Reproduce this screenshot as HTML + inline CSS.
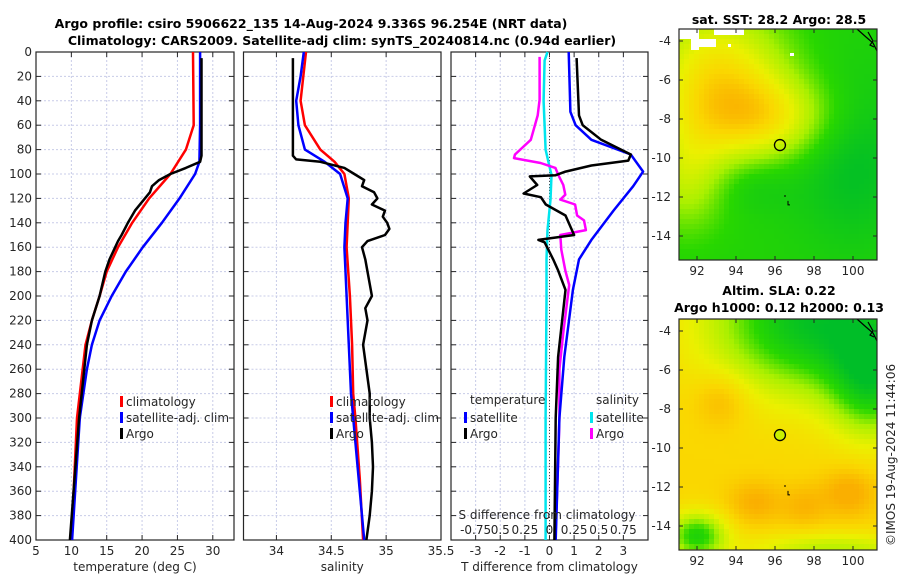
<!DOCTYPE html>
<html><head><meta charset="utf-8">
<style>
html,body{margin:0;padding:0;background:#fff;}
svg{display:block;font-family:"DejaVu Sans","Liberation Sans",sans-serif;}
.tk{font-size:12px;fill:#262626;}
.ttl{font-size:12.5px;font-weight:bold;fill:#000;}
</style></head>
<body>
<svg id="fig" width="900" height="580" viewBox="0 0 900 580" xmlns="http://www.w3.org/2000/svg">
<rect width="900" height="580" fill="#fff"/>
<text class="ttl" x="311" y="28" text-anchor="middle">Argo profile: csiro 5906622_135 14-Aug-2024 9.336S 96.254E (NRT data)</text>
<text class="ttl" x="342" y="45" text-anchor="middle">Climatology: CARS2009. Satellite-adj clim: synTS_20240814.nc (0.94d earlier)</text>
<g id="p1"></g>
<g id="p2"></g>
<g id="p3"></g>
<g id="m1"></g>
<g id="m2"></g>
<text class="ttl" x="779" y="24" text-anchor="middle">sat. SST: 28.2 Argo: 28.5</text>
<text class="ttl" x="779" y="295" text-anchor="middle">Altim. SLA: 0.22</text>
<text class="ttl" x="779" y="312" text-anchor="middle">Argo h1000: 0.12 h2000: 0.13</text>
<text class="tk" font-size="12.5" transform="translate(895,546) rotate(-90)">©IMOS 19-Aug-2024 11:44:06</text>
</svg>
<script>
// ---- data (depth in m) ----
const tClimD=[0,60,80,100,120,140,160,180,200,220,240,300,400];
const tClimV=[27.2,27.3,26.2,24,21,18.6,16.6,15,14,12.9,12,10.8,10];
const tSatD=[0,60,90,100,120,140,160,180,200,220,240,260,300,400];
const tSatV=[28.2,28.2,28.1,27.5,25.3,22.8,20.1,17.7,15.7,14,12.9,12.2,11.2,10.1];
const tArgoD=[5,85,90,95,100,105,110,115,120,130,140,150,155,160,170,180,200,220,240,300,400];
const tArgoV=[28.4,28.4,28.2,26.2,24,22.4,21.4,21.1,20.4,19,18,17.1,16.6,16.2,15.4,14.8,14,12.9,12.2,11.1,9.8];
const sArgoD=[5,85,88,90,95,100,105,110,115,120,125,130,135,140,145,150,155,160,170,180,190,200,210,220,240,260,280,300,320,340,360,380,400];
const sArgoV=[34.15,34.15,34.18,34.4,34.62,34.71,34.8,34.78,34.89,34.92,34.87,34.99,34.97,35.01,35.03,34.99,34.83,34.78,34.81,34.83,34.85,34.87,34.81,34.83,34.79,34.82,34.85,34.85,34.87,34.88,34.87,34.85,34.82];
const sClimD=[0,40,60,80,90,100,120,140,160,200,240,280,300,350,400];
const sClimV=[34.27,34.22,34.26,34.4,34.53,34.62,34.66,34.65,34.64,34.67,34.69,34.7,34.72,34.76,34.79];
const sSatD=[0,20,40,60,80,90,100,120,140,160,200,240,280,300,350,400];
const sSatV=[34.25,34.22,34.18,34.2,34.26,34.44,34.58,34.65,34.63,34.62,34.64,34.66,34.68,34.7,34.75,34.8];
const dTSatD=[0,49,60,72,84,98,110,130,154,170,195,250,300,400];
const dTSatV=[0.78,0.85,1.06,1.7,3.3,3.8,3.4,2.6,1.7,1.2,0.95,0.6,0.4,0.25];
const dTArgoD=[5,52,60,72,84,89,93,98,101,102,109,116,119,125,134,150,154,156,170,179,195,250,300,400];
const dTArgoV=[1.1,1.2,1.35,2.1,3.3,3.2,1.7,0.65,0.25,-0.8,-0.5,-1.05,-0.35,-0.15,0.65,1.0,-0.45,-0.2,0.15,0.35,0.65,0.35,0.25,0.2];
const dSArgoD=[4,39,52,72,84,87,91,95,101,109,117,121,125,134,138,146,150,162,179,191,230,260,300,330,400];
const dSArgoV=[-0.1,-0.1,-0.12,-0.19,-0.35,-0.36,-0.09,0.06,0.09,0.14,0.16,0.11,0.26,0.28,0.35,0.37,0.11,0.12,0.16,0.2,0.14,0.1,0.1,0.09,0.06];
const dSSatD=[0,7,40,80,101,121,146,170,203,300,400];
const dSSatV=[-0.02,-0.05,-0.06,-0.04,0.02,0.01,-0.02,-0.03,-0.03,-0.04,-0.04];
const depthTicks=[0,20,40,60,80,100,120,140,160,180,200,220,240,260,280,300,320,340,360,380,400];
const tTicks=[5,10,15,20,25,30];
const sTicks=[34,34.5,35,35.5];
const dTTicks=[-3,-2,-1,0,1,2,3];
const dSTicks=[-0.75,-0.5,-0.25,0,0.25,0.5,0.75];
const dSTickLabels=['-0.75','0.5','0.25','0','0.25','0.5','0.75'];
const lonTicks=[92,94,96,98,100];
const latTicks=[-4,-6,-8,-10,-12,-14];
const argoLon=96.254, argoLat=-9.336;

const NS="http://www.w3.org/2000/svg";
function mk(parent,tag,attrs,txt){const e=document.createElementNS(NS,tag);for(const k in attrs)e.setAttribute(k,attrs[k]);if(txt!==undefined)e.textContent=txt;parent.appendChild(e);return e;}
const top0=52,bot0=540;
const yD=d=>top0+(d/400)*(bot0-top0);

function panel(g,x0,x1,xmin,xmax,xt,xlabel,yLabels){
  const xs=v=>x0+(v-xmin)/(xmax-xmin)*(x1-x0);
  for(const d of depthTicks){const l=mk(g,'line',{x1:x0,x2:x1,y1:yD(d),y2:yD(d),stroke:'#c8cce8','stroke-dasharray':'2,2','stroke-width':1});
    
    mk(g,'line',{x1:x0,x2:x0+5,y1:yD(d),y2:yD(d),stroke:'#262626'});mk(g,'line',{x1:x1-5,x2:x1,y1:yD(d),y2:yD(d),stroke:'#262626'});
    if(yLabels){const t=mk(g,'text',{class:'tk',x:x0-4,y:yD(d)+4,'text-anchor':'end'},String(d));
      }}
  for(const v of xt){const x=xs(v);const l=mk(g,'line',{x1:x,x2:x,y1:top0,y2:bot0,stroke:'#c8cce8','stroke-dasharray':'2,2'});
    
    mk(g,'line',{x1:x,x2:x,y1:bot0-5,y2:bot0,stroke:'#262626'});mk(g,'line',{x1:x,x2:x,y1:top0,y2:top0+5,stroke:'#262626'});
    const t=mk(g,'text',{class:'tk',x:x,y:555,'text-anchor':'middle'},String(v));
    }
  const r=mk(g,'rect',{x:x0,y:top0,width:x1-x0,height:bot0-top0,fill:'none',stroke:'#262626','stroke-width':1.2});
  
  const xl=mk(g,'text',{class:'tk',x:(x0+x1)/2,y:571,'text-anchor':'middle','font-size':12.5},xlabel);
  
  return xs;
}
function line(g,xs,D,V,col,name,w){
  const pts=D.map((d,i)=>xs(V[i]).toFixed(1)+','+yD(d).toFixed(1)).join(' ');
  const p=mk(g,'polyline',{points:pts,fill:'none',stroke:col,'stroke-width':w||2.5,'stroke-linejoin':'round'});
  
}
function legItem(g,x,y,col,label,name){
  mk(g,'rect',{x:x,y:y-6,width:3,height:11,fill:col});
  const t=mk(g,'text',{class:'tk',x:x+6,y:y+4,'font-size':12.5},label);
  
}
// panel 1
const g1=document.getElementById('p1');
const xs1=panel(g1,36,234,5,33,tTicks,'temperature (deg C)',true);
line(g1,xs1,tClimD,tClimV,'#f00','climatology-temperature-line');
line(g1,xs1,tSatD,tSatV,'#00f','satellite-temperature-line');
line(g1,xs1,tArgoD,tArgoV,'#000','argo-temperature-line');
legItem(g1,120,402,'#f00','climatology','legend-climatology');
legItem(g1,120,418,'#00f','satellite-adj. clim','legend-satellite');
legItem(g1,120,434,'#000','Argo','legend-argo');
// panel 2
const g2=document.getElementById('p2');
const xs2=panel(g2,243.5,441,33.7,35.5,sTicks,'salinity',false);
line(g2,xs2,sClimD,sClimV,'#f00','climatology-salinity-line');
line(g2,xs2,sSatD,sSatV,'#00f','satellite-salinity-line');
line(g2,xs2,sArgoD,sArgoV,'#000','argo-salinity-line');
legItem(g2,330,402,'#f00','climatology','legend-climatology');
legItem(g2,330,418,'#00f','satellite-adj. clim','legend-satellite');
legItem(g2,330,434,'#000','Argo','legend-argo');
// panel 3
const g3=document.getElementById('p3');
const xs3=panel(g3,451,648,-4,4,dTTicks,'T difference from climatology',false);
const xsS=v=>451+(v+1)/2*(648-451);
mk(g3,'line',{x1:549.5,x2:549.5,y1:top0,y2:bot0,stroke:'#444','stroke-dasharray':'1,2'});
line(g3,xsS,dSSatD,dSSatV,'#00e5ee','satellite-salinity-diff-line');
line(g3,xsS,dSArgoD,dSArgoV,'#f0f','argo-salinity-diff-line');
line(g3,xs3,dTSatD,dTSatV,'#00f','satellite-temperature-diff-line');
line(g3,xs3,dTArgoD,dTArgoV,'#000','argo-temperature-diff-line');
let th=mk(g3,'text',{class:'tk',x:470,y:404,'font-size':12.5},'temperature');
let sh=mk(g3,'text',{class:'tk',x:596,y:404,'font-size':12.5},'salinity');
legItem(g3,464,418,'#00f','satellite','legend-temp-satellite');
legItem(g3,464,434,'#000','Argo','legend-temp-argo');
legItem(g3,590,418,'#00e5ee','satellite','legend-sal-satellite');
legItem(g3,590,434,'#f0f','Argo','legend-sal-argo');
let st=mk(g3,'text',{class:'tk',x:547,y:519,'text-anchor':'middle','font-size':12.5},'S difference from climatology');
dSTicks.forEach((v,i)=>{const t=mk(g3,'text',{class:'tk',x:xsS(v),y:534,'text-anchor':'middle'},dSTickLabels[i]);
  });

// maps
function colorOf(v){
  const stops=[[0,[0,190,40]],[0.3,[40,215,0]],[0.5,[170,240,0]],[0.7,[235,240,0]],[0.85,[250,215,0]],[1,[250,175,0]]];
  v=Math.max(0,Math.min(1,v));
  for(let i=1;i<stops.length;i++){if(v<=stops[i][0]){const a=stops[i-1],b=stops[i],f=(v-a[0])/(b[0]-a[0]);
    return 'rgb('+a[1].map((c,k)=>Math.round(c+(b[1][k]-c)*f)).join(',')+')';}}
  return 'rgb(250,175,0)';
}
const g=(x,y,cx,cy,sx,sy)=>Math.exp(-((x-cx)**2/(2*sx*sx)+(y-cy)**2/(2*sy*sy)));
function f1(lon,lat){return 0.25+0.5*g(lon,lat,93,-5.5,2.5,2.5)+0.45*g(lon,lat,95.5,-8,2.8,1.6)+0.3*g(lon,lat,91.5,-11,1.5,2)-0.25*g(lon,lat,100,-10,2,3)-0.1*g(lon,lat,95,-11.5,1.5,1);}
function f2(lon,lat){return 0.85-0.8*g(lon,lat,98,-3.5,3.5,2.5)-0.6*g(lon,lat,101,-6.5,1.5,2)+0.15*g(lon,lat,93.3,-7.5,1,1)+0.15*g(lon,lat,95,-12.8,1,0.8)+0.12*g(lon,lat,97.5,-13,0.8,0.8)+0.18*g(lon,lat,99.8,-12.3,1,0.9)-0.6*g(lon,lat,92,-14.5,1,0.8)-0.3*g(lon,lat,99,-15.2,3,0.6);}
function map(gid,y0,y1,fn,lat4y,lat14y,white){
  const G=document.getElementById(gid),x0=679,x1=877;
  const lx=lon=>697+(lon-92)*19.5;
  const ly=lat=>lat4y+(lat+4)/(-10)*(lat14y-lat4y);
  const step=5;
  for(let y=y0;y<y1;y+=step)for(let x=x0;x<x1;x+=step){
    const lon=92+(x+2.5-697)/19.5, lat=-4-(y+2.5-lat4y)/(lat14y-lat4y)*10;
    mk(G,'rect',{x:x,y:y,width:Math.min(step,x1-x)+0.3,height:Math.min(step,y1-y)+0.3,fill:colorOf(fn(lon,lat))});}
  if(white){[[679,29,20,10],[691,29,8,21],[698,39,18,8],[714,29,30,6],[728,44,3,3],[790,53,4,3]].forEach(r=>mk(G,'rect',{x:r[0],y:r[1],width:r[2],height:r[3],fill:'#fff'}));}
  mk(G,'path',{d:`M857 ${y0} L866 ${y0+8} L873 ${y0+14} L877 ${y0+22} M868 ${y0+3} L873 ${y0+12} L870 ${y0+16} L874 ${y0+18}`,stroke:'#000',fill:'none','stroke-width':1.2});
  mk(G,'path',{d:`M785 ${ly(-11.9)} l0 2 M788 ${ly(-12.2)} l0 4 l2 0`,stroke:'#000','stroke-width':1,fill:'none'});
  const c=mk(G,'circle',{cx:lx(argoLon),cy:ly(argoLat),r:5.5,fill:gid==='m2'?'#c8f000':'none',stroke:'#000','stroke-width':1.3});
  
  mk(G,'rect',{x:x0,y:y0,width:x1-x0,height:y1-y0,fill:'none',stroke:'#262626','stroke-width':1.2});
  for(const lon of lonTicks){const x=lx(lon);mk(G,'line',{x1:x,x2:x,y1:y1-4,y2:y1,stroke:'#262626'});mk(G,'line',{x1:x,x2:x,y1:y0,y2:y0+4,stroke:'#262626'});
    const t=mk(G,'text',{class:'tk',x:x,y:y1+15,'text-anchor':'middle'},String(lon));}
  for(const lat of latTicks){const y=ly(lat);mk(G,'line',{x1:x0,x2:x0+4,y1:y,y2:y,stroke:'#262626'});mk(G,'line',{x1:x1-4,x2:x1,y1:y,y2:y,stroke:'#262626'});
    const t=mk(G,'text',{class:'tk',x:x0-8,y:y+4,'text-anchor':'end'},String(lat));}
}
map('m1',29,260,f1,41,236,true);
map('m2',319,550,f2,331,526,false);
</script>
</body></html>
